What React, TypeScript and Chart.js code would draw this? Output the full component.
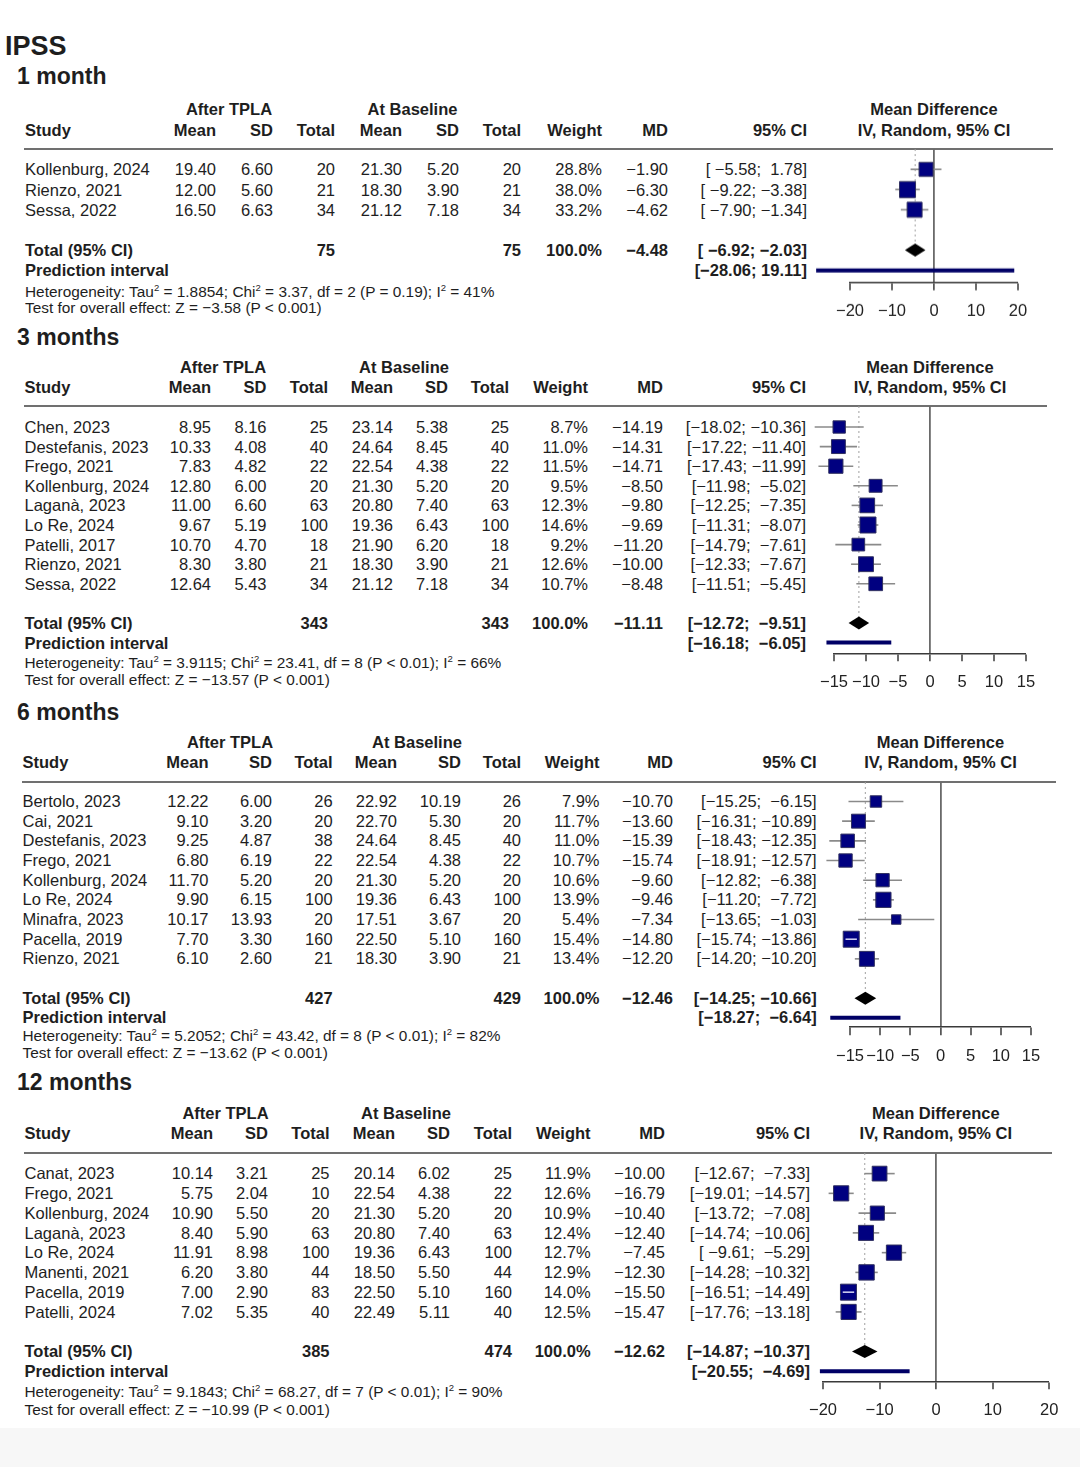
import React, { useEffect, useRef } from 'react';
import { Chart, registerables } from 'chart.js';

Chart.register(...registerables);

const FONT = '"Liberation Sans", Arial, Helvetica, sans-serif';

// ---------------- 1 month ----------------
const m1Studies = ['Kollenburg, 2024', 'Rienzo, 2021', 'Sessa, 2022'];
const m1MeanT = [19.4, 12.0, 16.5];
const m1SdT = [6.6, 5.6, 6.63];
const m1NT = [20, 21, 34];
const m1MeanC = [21.3, 18.3, 21.12];
const m1SdC = [5.2, 3.9, 7.18];
const m1NC = [20, 21, 34];
const m1Weight = [28.8, 38.0, 33.2];
const m1MD = [-1.9, -6.3, -4.62];
const m1Lower = [-5.58, -9.22, -7.9];
const m1Upper = [1.78, -3.38, -1.34];
const m1Totals = [75, 75];
const m1Pooled = [-4.48, -6.92, -2.03];
const m1Pred = [-28.06, 19.11];
const m1Het = ['1.8854', '3.37', '2', 'P = 0.19', '41%'];
const m1Test = ['−3.58', 'P < 0.001'];
const m1Ticks = [-20, -10, 0, 10, 20];

// ---------------- 3 months ----------------
const m3Studies = ['Chen, 2023', 'Destefanis, 2023', 'Frego, 2021', 'Kollenburg, 2024', 'Laganà, 2023', 'Lo Re, 2024', 'Patelli, 2017', 'Rienzo, 2021', 'Sessa, 2022'];
const m3MeanT = [8.95, 10.33, 7.83, 12.8, 11.0, 9.67, 10.7, 8.3, 12.64];
const m3SdT = [8.16, 4.08, 4.82, 6.0, 6.6, 5.19, 4.7, 3.8, 5.43];
const m3NT = [25, 40, 22, 20, 63, 100, 18, 21, 34];
const m3MeanC = [23.14, 24.64, 22.54, 21.3, 20.8, 19.36, 21.9, 18.3, 21.12];
const m3SdC = [5.38, 8.45, 4.38, 5.2, 7.4, 6.43, 6.2, 3.9, 7.18];
const m3NC = [25, 40, 22, 20, 63, 100, 18, 21, 34];
const m3Weight = [8.7, 11.0, 11.5, 9.5, 12.3, 14.6, 9.2, 12.6, 10.7];
const m3MD = [-14.19, -14.31, -14.71, -8.5, -9.8, -9.69, -11.2, -10.0, -8.48];
const m3Lower = [-18.02, -17.22, -17.43, -11.98, -12.25, -11.31, -14.79, -12.33, -11.51];
const m3Upper = [-10.36, -11.4, -11.99, -5.02, -7.35, -8.07, -7.61, -7.67, -5.45];
const m3Totals = [343, 343];
const m3Pooled = [-11.11, -12.72, -9.51];
const m3Pred = [-16.18, -6.05];
const m3Het = ['3.9115', '23.41', '8', 'P < 0.01', '66%'];
const m3Test = ['−13.57', 'P < 0.001'];
const m3Ticks = [-15, -10, -5, 0, 5, 10, 15];

// ---------------- 6 months ----------------
const m6Studies = ['Bertolo, 2023', 'Cai, 2021', 'Destefanis, 2023', 'Frego, 2021', 'Kollenburg, 2024', 'Lo Re, 2024', 'Minafra, 2023', 'Pacella, 2019', 'Rienzo, 2021'];
const m6MeanT = [12.22, 9.1, 9.25, 6.8, 11.7, 9.9, 10.17, 7.7, 6.1];
const m6SdT = [6.0, 3.2, 4.87, 6.19, 5.2, 6.15, 13.93, 3.3, 2.6];
const m6NT = [26, 20, 38, 22, 20, 100, 20, 160, 21];
const m6MeanC = [22.92, 22.7, 24.64, 22.54, 21.3, 19.36, 17.51, 22.5, 18.3];
const m6SdC = [10.19, 5.3, 8.45, 4.38, 5.2, 6.43, 3.67, 5.1, 3.9];
const m6NC = [26, 20, 40, 22, 20, 100, 20, 160, 21];
const m6Weight = [7.9, 11.7, 11.0, 10.7, 10.6, 13.9, 5.4, 15.4, 13.4];
const m6MD = [-10.7, -13.6, -15.39, -15.74, -9.6, -9.46, -7.34, -14.8, -12.2];
const m6Lower = [-15.25, -16.31, -18.43, -18.91, -12.82, -11.2, -13.65, -15.74, -14.2];
const m6Upper = [-6.15, -10.89, -12.35, -12.57, -6.38, -7.72, -1.03, -13.86, -10.2];
const m6Totals = [427, 429];
const m6Pooled = [-12.46, -14.25, -10.66];
const m6Pred = [-18.27, -6.64];
const m6Het = ['5.2052', '43.42', '8', 'P < 0.01', '82%'];
const m6Test = ['−13.62', 'P < 0.001'];
const m6Ticks = [-15, -10, -5, 0, 5, 10, 15];

// ---------------- 12 months ----------------
const m12Studies = ['Canat, 2023', 'Frego, 2021', 'Kollenburg, 2024', 'Laganà, 2023', 'Lo Re, 2024', 'Manenti, 2021', 'Pacella, 2019', 'Patelli, 2024'];
const m12MeanT = [10.14, 5.75, 10.9, 8.4, 11.91, 6.2, 7.0, 7.02];
const m12SdT = [3.21, 2.04, 5.5, 5.9, 8.98, 3.8, 2.9, 5.35];
const m12NT = [25, 10, 20, 63, 100, 44, 83, 40];
const m12MeanC = [20.14, 22.54, 21.3, 20.8, 19.36, 18.5, 22.5, 22.49];
const m12SdC = [6.02, 4.38, 5.2, 7.4, 6.43, 5.5, 5.1, 5.11];
const m12NC = [25, 22, 20, 63, 100, 44, 160, 40];
const m12Weight = [11.9, 12.6, 10.9, 12.4, 12.7, 12.9, 14.0, 12.5];
const m12MD = [-10.0, -16.79, -10.4, -12.4, -7.45, -12.3, -15.5, -15.47];
const m12Lower = [-12.67, -19.01, -13.72, -14.74, -9.61, -14.28, -16.51, -17.76];
const m12Upper = [-7.33, -14.57, -7.08, -10.06, -5.29, -10.32, -14.49, -13.18];
const m12Totals = [385, 474];
const m12Pooled = [-12.62, -14.87, -10.37];
const m12Pred = [-20.55, -4.69];
const m12Het = ['9.1843', '68.27', '7', 'P < 0.01', '90%'];
const m12Test = ['−10.99', 'P < 0.001'];
const m12Ticks = [-20, -10, 0, 10, 20];

const panelTitles = ['1 month', '3 months', '6 months', '12 months'];

type Panel = {
  title: string;
  studies: string[];
  meanT: number[]; sdT: number[]; nT: number[];
  meanC: number[]; sdC: number[]; nC: number[];
  weight: number[]; md: number[]; lower: number[]; upper: number[];
  totals: number[]; pooled: number[]; pred: number[];
  het: string[]; test: string[]; ticks: number[];
};

const panels: Panel[] = [
  { title: panelTitles[0], studies: m1Studies, meanT: m1MeanT, sdT: m1SdT, nT: m1NT, meanC: m1MeanC, sdC: m1SdC, nC: m1NC, weight: m1Weight, md: m1MD, lower: m1Lower, upper: m1Upper, totals: m1Totals, pooled: m1Pooled, pred: m1Pred, het: m1Het, test: m1Test, ticks: m1Ticks },
  { title: panelTitles[1], studies: m3Studies, meanT: m3MeanT, sdT: m3SdT, nT: m3NT, meanC: m3MeanC, sdC: m3SdC, nC: m3NC, weight: m3Weight, md: m3MD, lower: m3Lower, upper: m3Upper, totals: m3Totals, pooled: m3Pooled, pred: m3Pred, het: m3Het, test: m3Test, ticks: m3Ticks },
  { title: panelTitles[2], studies: m6Studies, meanT: m6MeanT, sdT: m6SdT, nT: m6NT, meanC: m6MeanC, sdC: m6SdC, nC: m6NC, weight: m6Weight, md: m6MD, lower: m6Lower, upper: m6Upper, totals: m6Totals, pooled: m6Pooled, pred: m6Pred, het: m6Het, test: m6Test, ticks: m6Ticks },
  { title: panelTitles[3], studies: m12Studies, meanT: m12MeanT, sdT: m12SdT, nT: m12NT, meanC: m12MeanC, sdC: m12SdC, nC: m12NC, weight: m12Weight, md: m12MD, lower: m12Lower, upper: m12Upper, totals: m12Totals, pooled: m12Pooled, pred: m12Pred, het: m12Het, test: m12Test, ticks: m12Ticks },
];

// ---------------- layout (pixels) ----------------
type Layout = {
  title: number; h1: number; h2: number; line: number; row0: number; pitch: number;
  axis: number; het: number; test: number; studyX: number; cols: number[];
  after: number; base: number; lineEnd: number; pxMin: number; pxMax: number;
};

const LAYOUTS: Layout[] = [
  { title: 84.3, h1: 115, h2: 136, line: 149.3, row0: 169.5, pitch: 20.1, axis: 281.7, het: 296.7, test: 313.3, studyX: 25, cols: [216, 273, 335, 402, 459, 521, 602, 668, 807], after: 229, base: 412.5, lineEnd: 1053, pxMin: 850, pxMax: 1018 },
  { title: 345, h1: 372.7, h2: 393.3, line: 406, row0: 427, pitch: 19.6, axis: 653.3, het: 667.7, test: 685, studyX: 24.5, cols: [211, 266.5, 328, 393, 448, 509, 588, 663, 806], after: 223, base: 404, lineEnd: 1047, pxMin: 834, pxMax: 1026 },
  { title: 720.7, h1: 747.7, h2: 768.3, line: 781.5, row0: 801, pitch: 19.67, axis: 1026.7, het: 1040.7, test: 1058.3, studyX: 22.5, cols: [208.5, 272, 332.6, 397, 461, 521, 599.5, 673, 816.7], after: 230, base: 417, lineEnd: 1056, pxMin: 850, pxMax: 1031 },
  { title: 1090.7, h1: 1119.3, h2: 1139.3, line: 1152.7, row0: 1173.3, pitch: 19.76, axis: 1381, het: 1396.7, test: 1415, studyX: 24.5, cols: [213, 268, 329.5, 395, 450, 512, 590.6, 665, 810], after: 225.5, base: 406, lineEnd: 1052, pxMin: 822.7, pxMax: 1049 },
];

const FS = 16.5;
const HET_FS = 15.4;
const TEXT = '#1e1e1e';
const NAVY = '#000080';

const fmt = (v: number, d: number) => (v < 0 ? '−' : '') + Math.abs(v).toFixed(d);
const fmtTick = (v: number) => (v < 0 ? '−' + Math.abs(v) : String(v));

function ciStrings(p: Panel): string[] {
  const lows = [...p.lower, p.pooled[1], p.pred[0]].map((v) => fmt(v, 2));
  const ups = [...p.upper, p.pooled[2], p.pred[1]].map((v) => fmt(v, 2));
  const lw = Math.max(...lows.map((s) => s.length));
  const uw = Math.max(...ups.map((s) => s.length));
  return lows.map((lo, i) => `[${lo.padStart(lw, ' ')}; ${ups[i].padStart(uw, ' ')}]`);
}

function T(props: { x: number; y: number; align?: 'left' | 'right' | 'center'; size?: number; bold?: boolean; children: React.ReactNode }) {
  const { x, y, align = 'left', size = FS, bold = false, children } = props;
  const tx = align === 'right' ? 'translateX(-100%)' : align === 'center' ? 'translateX(-50%)' : 'none';
  return (
    <div
      style={{
        position: 'absolute',
        left: x,
        top: y - 0.8465 * size,
        fontSize: size,
        lineHeight: `${size}px`,
        fontWeight: bold ? 700 : 400,
        whiteSpace: 'pre',
        transform: tx,
        color: TEXT,
      }}
    >
      {children}
    </div>
  );
}

const Sup = ({ children }: { children: React.ReactNode }) => (
  <span style={{ fontSize: '0.62em', position: 'relative', top: '-0.55em', lineHeight: 0 }}>{children}</span>
);

function Forest({ p, L }: { p: Panel; L: Layout }) {
  const ref = useRef<HTMLCanvasElement | null>(null);
  const padL = 42;
  const padR = 30;
  const padT = 2;
  const axisH = 46;
  const width = L.pxMax - L.pxMin + padL + padR;
  const height = L.axis - L.line + padT + axisH;

  useEffect(() => {
    if (!ref.current) return;
    const n = p.studies.length;
    const wMax = Math.max(...p.weight);
    const side = (w: number) => 16 * Math.sqrt(w / wMax);
    const yMin = -(L.row0 - L.line) / L.pitch;
    const yMax = (L.axis - L.row0) / L.pitch;
    const ciData = p.lower.map((lo, i) => ({ y: i, x: [lo, p.upper[i]] }));

    const diamond = {
      id: 'diamond',
      afterDatasetsDraw(chart: any) {
        const xs = chart.scales.x;
        const ys = chart.scales.y;
        const ctx = chart.ctx;
        const yc = ys.getPixelForValue(n + 1);
        const h = 6.5;
        ctx.save();
        ctx.beginPath();
        ctx.moveTo(xs.getPixelForValue(p.pooled[1]), yc);
        ctx.lineTo(xs.getPixelForValue(p.pooled[0]), yc - h);
        ctx.lineTo(xs.getPixelForValue(p.pooled[2]), yc);
        ctx.lineTo(xs.getPixelForValue(p.pooled[0]), yc + h);
        ctx.closePath();
        ctx.fillStyle = '#000000';
        ctx.fill();
        ctx.restore();
      },
    };

    const chart = new Chart(ref.current, {
      type: 'scatter',
      data: {
        datasets: [
          {
            type: 'line',
            data: [
              { x: p.pooled[0], y: yMin },
              { x: p.pooled[0], y: n + 1 },
            ],
            borderColor: '#a0a0a0',
            borderWidth: 1,
            borderDash: [2, 3],
            pointRadius: 0,
            clip: false,
            order: 10,
          } as any,
          {
            type: 'bar',
            indexAxis: 'y',
            data: ciData,
            backgroundColor: '#8a8a8a',
            grouped: false,
            maxBarThickness: 1.6,
            clip: false,
            order: 9,
          } as any,
          {
            type: 'scatter',
            data: p.md.map((m, i) => ({ x: m, y: i })),
            pointStyle: 'rect',
            pointRadius: p.weight.map((w) => side(w) / Math.SQRT2),
            backgroundColor: NAVY,
            borderColor: '#303060',
            borderWidth: 1,
            clip: false,
            order: 8,
          } as any,
          {
            type: 'bar',
            indexAxis: 'y',
            data: ciData,
            backgroundColor: (c: any) => {
              const xs = c.chart.scales && c.chart.scales.x;
              const i = c.dataIndex;
              if (!xs || i === undefined) return 'rgba(0,0,0,0)';
              const wpx = Math.abs(xs.getPixelForValue(p.upper[i]) - xs.getPixelForValue(p.lower[i]));
              return wpx < side(p.weight[i]) - 2 ? '#e8e8ff' : 'rgba(0,0,0,0)';
            },
            grouped: false,
            maxBarThickness: 1.4,
            clip: false,
            order: 7,
          } as any,
          {
            type: 'bar',
            indexAxis: 'y',
            data: [{ y: n + 2, x: [p.pred[0], p.pred[1]] }],
            backgroundColor: '#000066',
            borderWidth: 0,
            grouped: false,
            maxBarThickness: 4,
            clip: false,
            order: 6,
          } as any,
        ],
      },
      options: {
        animation: false,
        responsive: true,
        maintainAspectRatio: false,
        events: [],
        layout: { autoPadding: false, padding: { left: padL, right: padR, top: padT, bottom: 0 } },
        plugins: { legend: { display: false }, tooltip: { enabled: false } },
        scales: {
          x: {
            type: 'linear',
            offset: false,
            beginAtZero: false,
            min: p.ticks[0],
            max: p.ticks[p.ticks.length - 1],
            afterBuildTicks: (s: any) => {
              s.ticks = p.ticks.map((v) => ({ value: v }));
            },
            afterFit: (s: any) => {
              s.height = axisH;
            },
            grid: {
              display: true,
              offset: false,
              drawOnChartArea: true,
              drawTicks: true,
              tickLength: 8,
              color: (c: any) => (c.tick && c.tick.value === 0 ? '#6a6a6a' : 'rgba(0,0,0,0)'),
              lineWidth: (c: any) => (c.tick && c.tick.value === 0 ? 1.8 : 0),
              tickColor: '#3a3a3a',
              tickWidth: 1.5,
            },
            border: { display: true, color: '#3a3a3a', width: 1.5 },
            ticks: {
              padding: 11,
              color: '#222222',
              font: { family: FONT, size: FS },
              maxRotation: 0,
              autoSkip: false,
              callback: (v: any) => fmtTick(Number(v)),
            },
          },
          y: {
            type: 'linear',
            display: false,
            reverse: true,
            offset: false,
            grid: { offset: false },
            beginAtZero: false,
            min: yMin,
            max: yMax,
          },
        },
      } as any,
      plugins: [diamond],
    });
    return () => chart.destroy();
  }, [p, L]);

  return (
    <div style={{ position: 'absolute', left: L.pxMin - padL, top: L.line - padT, width, height }}>
      <canvas ref={ref} />
    </div>
  );
}

function PanelView({ p, L }: { p: Panel; L: Layout }) {
  const n = p.studies.length;
  const ci = ciStrings(p);
  const tMin = p.ticks[0];
  const tMax = p.ticks[p.ticks.length - 1];
  const zeroPx = L.pxMin + ((0 - tMin) / (tMax - tMin)) * (L.pxMax - L.pxMin);
  const rowBase = (i: number) => L.row0 + i * L.pitch + 0.358 * FS;
  const c = L.cols;
  const els: React.ReactNode[] = [];

  els.push(<T key="title" x={17} y={L.title} size={23} bold>{p.title}</T>);
  els.push(<T key="a1" x={L.after} y={L.h1} align="center" bold>After TPLA</T>);
  els.push(<T key="a2" x={L.base} y={L.h1} align="center" bold>At Baseline</T>);
  els.push(<T key="a3" x={zeroPx} y={L.h1} align="center" bold>Mean Difference</T>);
  const heads = ['Mean', 'SD', 'Total', 'Mean', 'SD', 'Total', 'Weight', 'MD', '95% CI'];
  els.push(<T key="hs" x={L.studyX} y={L.h2} bold>Study</T>);
  heads.forEach((h, j) => els.push(<T key={'h' + j} x={c[j]} y={L.h2} align="right" bold>{h}</T>));
  els.push(<T key="hiv" x={zeroPx} y={L.h2} align="center" bold>IV, Random, 95% CI</T>);
  els.push(
    <div key="hline" style={{ position: 'absolute', left: L.studyX - 1, top: L.line - 1, width: L.lineEnd - L.studyX + 1, height: 2, background: '#707070' }} />
  );

  p.studies.forEach((s, i) => {
    const b = rowBase(i);
    const vals = [
      fmt(p.meanT[i], 2), fmt(p.sdT[i], 2), String(p.nT[i]),
      fmt(p.meanC[i], 2), fmt(p.sdC[i], 2), String(p.nC[i]),
      p.weight[i].toFixed(1) + '%', fmt(p.md[i], 2), ci[i],
    ];
    els.push(<T key={'s' + i} x={L.studyX} y={b}>{s}</T>);
    vals.forEach((v, j) => els.push(<T key={`v${i}_${j}`} x={c[j]} y={b} align="right">{v}</T>));
  });

  const bt = rowBase(n + 1);
  els.push(<T key="tot" x={L.studyX} y={bt} bold>Total (95% CI)</T>);
  els.push(<T key="tot1" x={c[2]} y={bt} align="right" bold>{String(p.totals[0])}</T>);
  els.push(<T key="tot2" x={c[5]} y={bt} align="right" bold>{String(p.totals[1])}</T>);
  els.push(<T key="tot3" x={c[6]} y={bt} align="right" bold>100.0%</T>);
  els.push(<T key="tot4" x={c[7]} y={bt} align="right" bold>{fmt(p.pooled[0], 2)}</T>);
  els.push(<T key="tot5" x={c[8]} y={bt} align="right" bold>{ci[n]}</T>);

  const bp = rowBase(n + 2);
  els.push(<T key="pred" x={L.studyX} y={bp} bold>Prediction interval</T>);
  els.push(<T key="pred1" x={c[8]} y={bp} align="right" bold>{ci[n + 1]}</T>);

  els.push(
    <T key="het" x={L.studyX} y={L.het} size={HET_FS}>
      Heterogeneity: Tau<Sup>2</Sup> = {p.het[0]}; Chi<Sup>2</Sup> = {p.het[1]}, df = {p.het[2]} ({p.het[3]}); I<Sup>2</Sup> = {p.het[4]}
    </T>
  );
  els.push(
    <T key="test" x={L.studyX} y={L.test} size={HET_FS}>
      {`Test for overall effect: Z = ${p.test[0]} (${p.test[1]})`}
    </T>
  );

  return (
    <>
      {els}
      <Forest p={p} L={L} />
    </>
  );
}

export default function App() {
  return (
    <div
      style={{
        position: 'absolute',
        left: 0,
        top: 0,
        width: 1080,
        height: 1467,
        background: '#ffffff',
        fontFamily: FONT,
        overflow: 'hidden',
      }}
    >
      <div style={{ position: 'absolute', left: 0, top: 1428, width: 1080, height: 39, background: '#f7f7f7' }} />
      <T x={5} y={56} size={27} bold>IPSS</T>
      {panels.map((p, k) => (
        <PanelView key={k} p={p} L={LAYOUTS[k]} />
      ))}
    </div>
  );
}
